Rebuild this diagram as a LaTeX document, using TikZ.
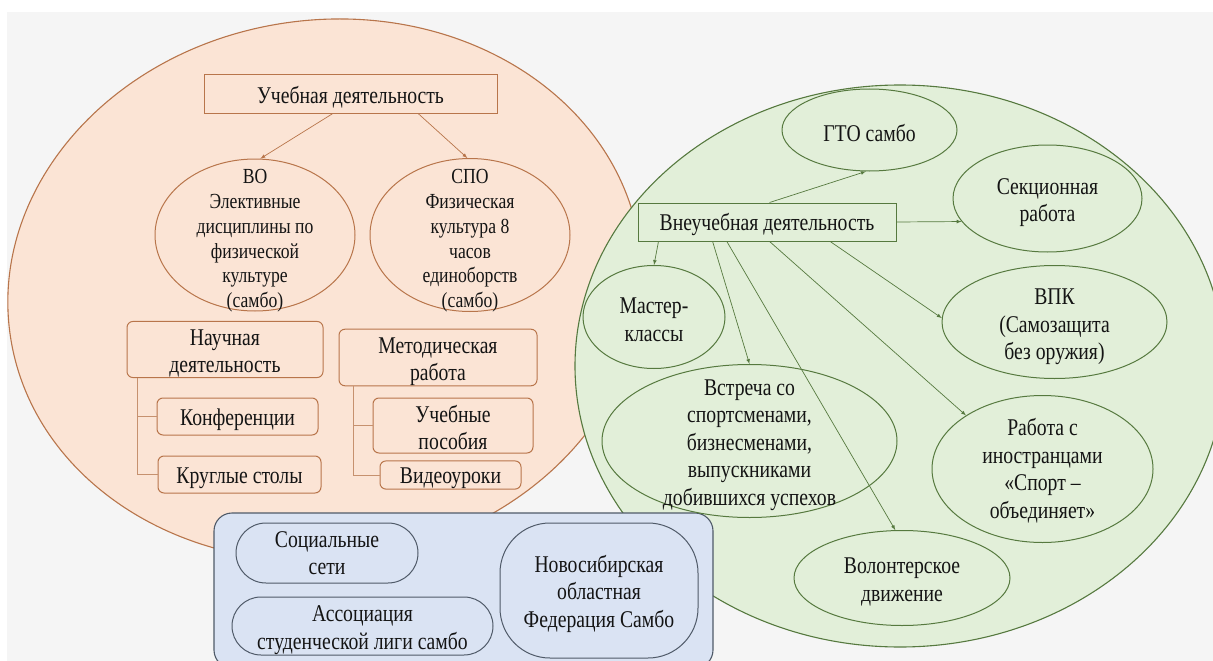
\documentclass[tikz,border=0pt]{standalone}
\usepackage{fontspec}
\setmainfont{Liberation Serif}[FakeStretch=0.82]
\usetikzlibrary{arrows,shapes.geometric,calc}

\definecolor{paper}{HTML}{F5F5F5}
\definecolor{peach}{HTML}{FBE4D5}
\definecolor{peachLine}{HTML}{B8754B}
\definecolor{leaf}{HTML}{E2EFD9}
\definecolor{leafLine}{HTML}{56793F}
\definecolor{sky}{HTML}{DAE3F3}
\definecolor{skyLine}{HTML}{4F5A68}

% strut for the first line of a multi-line label
\newcommand{\tstrut}[1][24pt]{\rule{0pt}{#1}}

\begin{document}
\begin{tikzpicture}[>=latex, x=1pt, y=-1pt]
  \tikzstyle{baseText} = [font={\fontsize{24}{27.5}\selectfont}, align=center, text=black!92, execute at begin node={\rule{0pt}{23pt}}]
  \tikzstyle{boxO} = [baseText, draw=peachLine, fill=peach, line width=1pt, rectangle, inner sep=0pt]
  \tikzstyle{roundO} = [boxO, rounded corners=6pt]
  \tikzstyle{ovalO} = [boxO, ellipse, inner xsep=-20pt, inner ysep=-45pt, font={\fontsize{21.5}{24.8}\selectfont}]
  \tikzstyle{boxG} = [baseText, draw=leafLine, fill=leaf, line width=1pt, rectangle, inner sep=0pt]
  \tikzstyle{ovalG} = [boxG, ellipse, inner xsep=-20pt, inner ysep=-45pt]
  \tikzstyle{pillB} = [baseText, draw=skyLine, fill=sky, line width=1pt, rectangle, inner sep=0pt]

  \tikzstyle{arrowO} = [->, draw=peachLine, line width=0.7pt];
  \tikzstyle{arrowG} = [->, draw=leafLine, line width=0.7pt];
  \tikzstyle{treeLine} = [draw=peachLine!80, line width=1pt];

  \clip (0,0) rectangle (1213,661);
  \fill[paper] (0,0) rectangle (1213,661);
  \fill[white] (0,0) rectangle (1213,12);
  \fill[white] (0,0) rectangle (7,661);

  % three areas
  \draw[fill=peach, draw=peachLine, line width=1.1pt, rotate around={8:(325,290)}] (325,290) ellipse [x radius=318, y radius=270];
  \draw[fill=leaf, draw=leafLine, line width=1.1pt] (900,366) ellipse [x radius=325, y radius=281];
  \draw[fill=sky, draw=skyLine, line width=1.1pt, rounded corners=18pt] (214,513) rectangle (713,668);

  % teaching
  \node[boxO, minimum width=293pt, minimum height=38pt] (ucheb) at (350.5,94) {Учебная деятельность};
  \node[ovalO, minimum width=200pt, minimum height=152pt] (vo) at (255,235) {\tstrut[26pt]ВО\\Элективные\\дисциплины по\\физической\\культуре\\(самбо)};
  \node[ovalO, minimum width=200pt, minimum height=153pt] (spo) at (470,235) {\tstrut[26pt]СПО\\Физическая\\культура 8\\часов\\единоборств\\(самбо)};

  \node[roundO, minimum width=196pt, minimum height=55pt] (nauch) at (225,349.5) {\tstrut Научная\\деятельность};
  \node[roundO, minimum width=161pt, minimum height=37pt] (konf) at (237.5,416.5) {Конференции};
  \node[roundO, minimum width=163pt, minimum height=37pt] (krug) at (239.5,474.5) {Круглые столы};

  \node[roundO, minimum width=198pt, minimum height=55pt] (metod) at (438,357.5) {\tstrut Методическая\\работа};
  \node[roundO, minimum width=160pt, minimum height=55pt] (posob) at (453,425.5) {\tstrut[21pt]Учебные\\пособия};
  \node[roundO, minimum width=141pt, minimum height=28pt] (video) at (450.5,475) {Видеоуроки};

  \path ($(ucheb.south west)!0.44!(ucheb.south east)$) edge[arrowO] (vo.86)
        ($(ucheb.south west)!0.73!(ucheb.south east)$) edge[arrowO] (spo.92);

  \draw[treeLine] (nauch.south west) ++(11,0) |- (konf.west);
  \draw[treeLine] (nauch.south west) ++(11,0) |- (krug.west);
  \draw[treeLine] (metod.south west) ++(15,0) |- (posob.west);
  \draw[treeLine] (metod.south west) ++(15,0) |- (video.west);

  % extracurricular
  \node[boxG, minimum width=258pt, minimum height=38pt] (vneuch) at (767,222) {Внеучебная деятельность};
  \node[ovalG, minimum width=175pt, minimum height=82pt] (gto) at (869.5,130) {ГТО самбо};
  \node[ovalG, minimum width=189pt, minimum height=107pt] (sekc) at (1047.5,198.5) {\tstrut Секционная\\работа};
  \node[ovalG, minimum width=225pt, minimum height=113pt] (vpk) at (1054.5,322) {\tstrut[26pt]ВПК\\(Самозащита\\без оружия)};
  \node[ovalG, minimum width=221pt, minimum height=147pt] (rabota) at (1042.5,469) {\tstrut[21pt]Работа с\\иностранцами\\«Спорт –\\объединяет»};
  \node[ovalG, minimum width=216pt, minimum height=95pt] (volont) at (902,578) {\tstrut Волонтерское\\движение};
  \node[ovalG, minimum width=142pt, minimum height=103pt] (master) at (654,317) {\tstrut[21pt]Мастер-\\классы};
  \node[ovalG, minimum width=295pt, minimum height=153pt] (vstrecha) at (749.5,441) {\tstrut Встреча со\\спортсменами,\\бизнесменами,\\выпускниками\\добившихся успехов};

  \path ($(vneuch.north west)!0.51!(vneuch.north east)$) edge[arrowG] (gto.-95)
        (vneuch.east) edge[arrowG] (sekc.195)
        ($(vneuch.south west)!0.081!(vneuch.south east)$) edge[arrowG] (master.north)
        ($(vneuch.south west)!0.29!(vneuch.south east)$) edge[arrowG] (vstrecha.north)
        ($(vneuch.south west)!0.345!(vneuch.south east)$) edge[arrowG] (volont.98)
        ($(vneuch.south west)!0.51!(vneuch.south east)$) edge[arrowG] (rabota.145)
        ($(vneuch.south west)!0.744!(vneuch.south east)$) edge[arrowG] (vpk.178);

  % partners
  \node[pillB, rounded corners=30pt, minimum width=182pt, minimum height=60pt] (soc) at (327,553) {Социальные\\сети};
  \node[pillB, rounded corners=29pt, minimum width=261pt, minimum height=58pt] (assoc) at (362.5,626) {\tstrut Ассоциация\\студенческой лиги самбо};
  \node[pillB, rounded corners=50pt, minimum width=198pt, minimum height=135pt] (novo) at (599,590.5) {\tstrut Новосибирская\\областная\\Федерация Самбо};
\end{tikzpicture}
\end{document}
